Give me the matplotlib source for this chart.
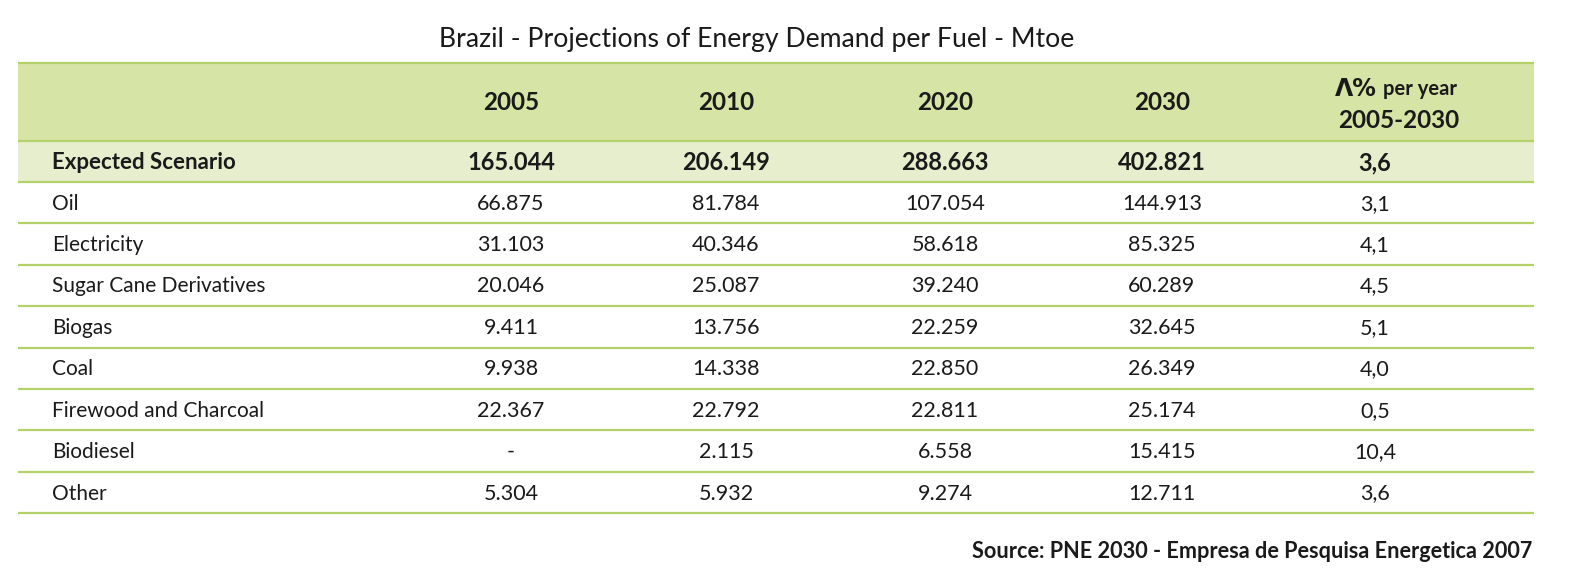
import matplotlib
matplotlib.use("Agg")
import matplotlib.pyplot as plt
from matplotlib.patches import Rectangle

# ---- data ----
title = "Brazil - Projections of Energy Demand per Fuel - Mtoe"
years = ["2005", "2010", "2020", "2030"]
total_label = "Expected Scenario"
total_values = [165.044, 206.149, 288.663, 402.821]
total_change = 3.6
fuels = ["Oil", "Electricity", "Sugar Cane Derivatives", "Biogas", "Coal",
         "Firewood and Charcoal", "Biodiesel", "Other"]
v2005 = [66.875, 31.103, 20.046, 9.411, 9.938, 22.367, None, 5.304]
v2010 = [81.784, 40.346, 25.087, 13.756, 14.338, 22.792, 2.115, 5.932]
v2020 = [107.054, 58.618, 39.240, 22.259, 22.850, 22.811, 6.558, 9.274]
v2030 = [144.913, 85.325, 60.289, 32.645, 26.349, 25.174, 15.415, 12.711]
change = [3.1, 4.1, 4.5, 5.1, 4.0, 0.5, 10.4, 3.6]
source = "Source: PNE 2030 - Empresa de Pesquisa Energetica 2007"

# ---- layout (pixels) ----
W, H = 1578, 584
FONT = "Lato"
x0, x1 = 18, 1534
hdr_top, hdr_bot = 63, 141
tot_bot = 182
row_h = 41.4
col_x = [511, 726, 945, 1162]
chg_x = 1375
hdr_chg_x = 1399
label_x = 52
HDR_C = "#d6e4a6"
TOT_C = "#e7eecd"
LINE_C = "#b3d36a"
TXT = "#1a1a1a"
fs_lab = 15
fs_num = 15.5
fs_hdr = 17.5

def fmt(v):
    return "-" if v is None else f"{v:.3f}"

def fmtc(v):
    return f"{v:.1f}".replace(".", ",")

fig = plt.figure(figsize=(W / 100, H / 100), dpi=100)
ax = fig.add_axes([0, 0, 1, 1])
ax.set_xlim(0, W)
ax.set_ylim(H, 0)
ax.axis("off")

ax.text(757, 40, title, ha="center", va="center",
        fontsize=19.2, family=FONT, color=TXT)

# header
ax.add_patch(Rectangle((x0, hdr_top), x1 - x0, hdr_bot - hdr_top, color=HDR_C, lw=0))
ax.add_patch(Rectangle((x0, hdr_bot), x1 - x0, tot_bot - hdr_bot, color=TOT_C, lw=0))
hy = (hdr_top + hdr_bot) / 2 + 1
for x, y in zip(col_x, years):
    ax.text(x, hy, y, ha="center", va="center", fontsize=fs_hdr, weight="bold",
            family=FONT, color=TXT)
ax.text(1377, 89, "Λ%", ha="right", va="center", fontsize=17, weight="bold",
        family=["DejaVu Sans"], color=TXT)
ax.text(1383, 89, "per year", ha="left", va="center", fontsize=14.5,
        weight="bold", family=FONT, color=TXT)
ax.text(hdr_chg_x, 121, "2005-2030", ha="center", va="center", fontsize=fs_hdr,
        weight="bold", family=FONT, color=TXT)

# total row
ty = (hdr_bot + tot_bot) / 2 + 1
ax.text(label_x, ty, total_label, ha="left", va="center", fontsize=16,
        weight="bold", family=FONT, color=TXT)
for x, v in zip(col_x, total_values):
    ax.text(x, ty, fmt(v), ha="center", va="center", fontsize=17, weight="bold",
            family=FONT, color=TXT)
ax.text(chg_x, ty, fmtc(total_change), ha="center", va="center", fontsize=17,
        weight="bold", family=FONT, color=TXT)

# lines
lines_y = [hdr_top, hdr_bot] + [tot_bot + row_h * k for k in range(len(fuels) + 1)]
for y in lines_y:
    ax.plot([x0, x1], [y, y], color=LINE_C, lw=1.6, solid_capstyle="butt")

cols = [v2005, v2010, v2020, v2030]
for i, f in enumerate(fuels):
    y = tot_bot + row_h * (i + 0.5) + 1
    ax.text(label_x, y, f, ha="left", va="center", fontsize=fs_lab,
            family=FONT, color=TXT)
    for x, col in zip(col_x, cols):
        ax.text(x, y, fmt(col[i]), ha="center", va="center", fontsize=fs_num,
                family=FONT, color=TXT)
    ax.text(chg_x, y, fmtc(change[i]), ha="center", va="center", fontsize=fs_num,
            family=FONT, color=TXT)

ax.text(x1 - 2, 552, source, ha="right", va="center", fontsize=15.6, weight="bold",
        family=FONT, color=TXT)

fig.savefig("out.png", dpi=100, facecolor="white")
